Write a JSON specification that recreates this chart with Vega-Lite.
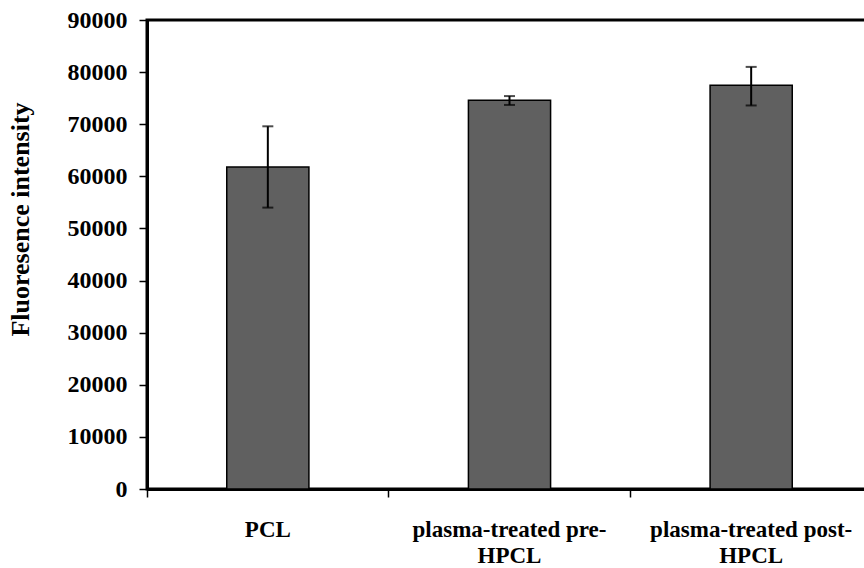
{
  "$schema": "https://vega.github.io/schema/vega-lite/v6.json",
  "width": 725,
  "height": 469,
  "autosize": {"type": "none"},
  "padding": {"left": 147, "top": 20, "right": 0, "bottom": 79},
  "background": "white",
  "config": {
    "view": {"stroke": "black", "strokeWidth": 3},
    "font": "Liberation Serif"
  },
  "data": {
    "values": [
      {"group": "PCL", "mean": 61800, "lo": 54000, "hi": 69600},
      {"group": "plasma-treated pre-HPCL", "mean": 74600, "lo": 73700, "hi": 75400},
      {"group": "plasma-treated post-HPCL", "mean": 77500, "lo": 73600, "hi": 81000}
    ]
  },
  "encoding": {
    "x": {
      "field": "group",
      "type": "nominal",
      "sort": null,
      "scale": {"paddingInner": 0, "paddingOuter": 0},
      "axis": {
        "title": null,
        "labelAngle": 0,
        "labelFont": "Liberation Serif",
        "labelFontWeight": "bold",
        "labelFontSize": 23,
        "labelColor": "black",
        "labelPadding": 21,
        "labelLineHeight": 26,
        "labelBaseline": "top",
        "labelLimit": 0,
        "labelExpr": "indexof(datum.label, 'HPCL') > 0 ? [substring(datum.label, 0, length(datum.label) - 4), 'HPCL'] : datum.label",
        "bandPosition": 0,
        "domainColor": "black",
        "domainWidth": 3,
        "tickColor": "black",
        "tickWidth": 1.5,
        "tickSize": 8,
        "grid": false
      }
    }
  },
  "layer": [
    {
      "mark": {"type": "bar", "color": "#606060", "stroke": "black", "strokeWidth": 1.5, "width": {"band": 0.34}},
      "encoding": {
        "y": {
          "field": "mean",
          "type": "quantitative",
          "scale": {"domain": [0, 90000], "nice": false},
          "axis": {
            "title": "Fluoresence intensity",
            "titleFont": "Liberation Serif",
            "titleFontWeight": "bold",
            "titleFontSize": 26,
            "titleColor": "black",
            "titleX": -127,
            "titleY": 199,
            "titleAngle": -90,
            "titleAlign": "center",
            "titleBaseline": "middle",
            "values": [0, 10000, 20000, 30000, 40000, 50000, 60000, 70000, 80000, 90000],
            "format": "d",
            "labelFont": "Liberation Serif",
            "labelFontWeight": "bold",
            "labelFontSize": 24,
            "labelColor": "black",
            "labelPadding": 12,
            "domainColor": "black",
            "domainWidth": 3,
            "tickColor": "black",
            "tickWidth": 1.5,
            "tickSize": 8,
            "grid": false
          }
        }
      }
    },
    {
      "mark": {"type": "rule", "color": "black", "strokeWidth": 2},
      "encoding": {
        "y": {"field": "lo", "type": "quantitative"},
        "y2": {"field": "hi"}
      }
    },
    {
      "mark": {"type": "tick", "color": "black", "thickness": 2, "size": 11},
      "encoding": {"y": {"field": "lo", "type": "quantitative"}}
    },
    {
      "mark": {"type": "tick", "color": "black", "thickness": 2, "size": 11},
      "encoding": {"y": {"field": "hi", "type": "quantitative"}}
    }
  ]
}
